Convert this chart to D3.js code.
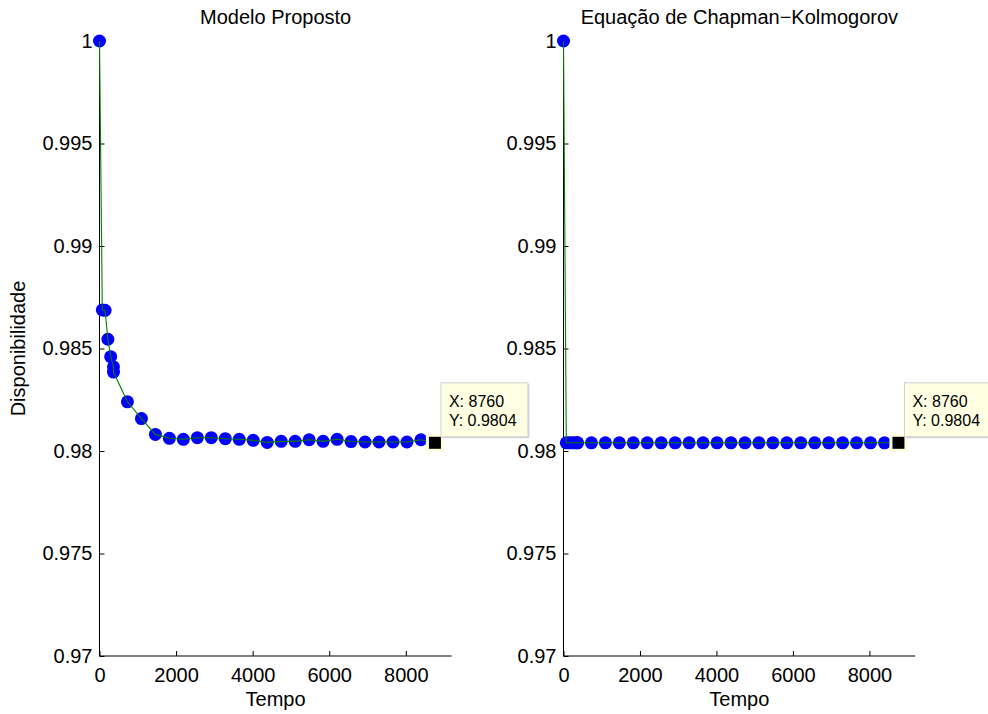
<!DOCTYPE html>
<html>
<head>
<meta charset="utf-8">
<script src="https://cdn.jsdelivr.net/npm/d3@7"></script>
<style>
  html, body { margin: 0; padding: 0; background: #fff; }
  svg { display: block; font-family: "Liberation Sans", Arial, Helvetica, sans-serif; }
</style>
</head>
<body>
<svg id="chart" width="988" height="714"></svg>
<script>
// ---- data ----
const tempo = [0, 73, 146, 219, 292, 365, 365, 730, 1095, 1460, 1825, 2190, 2555, 2920, 3285,
  3650, 4015, 4380, 4745, 5110, 5475, 5840, 6205, 6570, 6935, 7300, 7665, 8030, 8395, 8760];
const dispModelo = [1, 0.98688, 0.98686, 0.98545, 0.98460, 0.98410, 0.98385, 0.98240, 0.98158,
  0.98081, 0.98062, 0.98057, 0.98065, 0.98065, 0.98060, 0.98057, 0.98052, 0.98042, 0.98047,
  0.98047, 0.98055, 0.98047, 0.98057, 0.98046, 0.98044, 0.98044, 0.98044, 0.98044, 0.98055, 0.98040];
const dispChapman = [1, 0.9804, 0.9804, 0.9804, 0.9804, 0.9804, 0.9804, 0.9804, 0.9804, 0.9804,
  0.9804, 0.9804, 0.9804, 0.9804, 0.9804, 0.9804, 0.9804, 0.9804, 0.9804, 0.9804, 0.9804, 0.9804,
  0.9804, 0.9804, 0.9804, 0.9804, 0.9804, 0.9804, 0.9804, 0.9804];
const titles = ["Modelo Proposto", "Equação de Chapman\u2212Kolmogorov"];
const xTicks = [0, 2000, 4000, 6000, 8000];
const yTicks = [0.97, 0.975, 0.98, 0.985, 0.99, 0.995, 1];
const yTickLabels = ["0.97", "0.975", "0.98", "0.985", "0.99", "0.995", "1"];
const xDomain = [0, 9198];
const yDomain = [0.97, 1];
const tipX = 8760, tipY = 0.9804;
const xLabel = "Tempo", yLabel = "Disponibilidade";

// ---- layout ----
const svg = d3.select("#chart");
const panels = [
  { left: 99.5, right: 451.7, values: dispModelo, title: titles[0], ylab: true },
  { left: 563.5, right: 915.2, values: dispChapman, title: titles[1], ylab: false }
];
const plotTop = 41, plotBottom = 656;

panels.forEach(p => {
  const x = d3.scaleLinear().domain(xDomain).range([p.left, p.right]);
  const y = d3.scaleLinear().domain(yDomain).range([plotBottom, plotTop]);
  const g = svg.append("g");

  // axes
  const xAxis = d3.axisBottom(x).tickValues(xTicks).tickSize(-5).tickPadding(12)
    .tickFormat(d3.format("d"));
  const gx = g.append("g").attr("transform", `translate(0,${plotBottom})`).call(xAxis);
  gx.select(".domain").attr("d", `M${p.left},0H${p.right}`);
  const yAxis = d3.axisLeft(y).tickValues(yTicks).tickSize(-5).tickPadding(7)
    .tickFormat((d, i) => yTickLabels[i]);
  const gy = g.append("g").attr("transform", `translate(${p.left},0)`).call(yAxis);
  gy.select(".domain").attr("d", `M0,${plotTop}V${plotBottom}`);
  [gx, gy].forEach(a => {
    a.selectAll("text").attr("font-size", 20).attr("fill", "#000")
      .attr("font-family", '"Liberation Sans", Arial, sans-serif');
    a.selectAll("line").attr("stroke", "#000");
    a.select(".domain").attr("stroke", "#000");
  });
  gx.selectAll("text").attr("dy", "0.71em");

  // markers
  g.append("g").selectAll("circle").data(tempo).join("circle")
    .attr("cx", d => x(d))
    .attr("cy", (d, i) => y(p.values[i]))
    .attr("r", 6.5)
    .attr("fill", "#0000ff");

  // line on top
  const line = d3.line().x(d => x(d[0])).y(d => y(d[1]));
  g.append("path")
    .datum(tempo.map((t, i) => [t, p.values[i]]))
    .attr("d", line)
    .attr("fill", "none")
    .attr("stroke", "#008000")
    .attr("stroke-width", 1.1);

  // title
  g.append("text").attr("x", (p.left + p.right) / 2).attr("y", 24)
    .attr("text-anchor", "middle").attr("font-size", 20).text(p.title);
  // x label
  g.append("text").attr("x", (p.left + p.right) / 2).attr("y", 706)
    .attr("text-anchor", "middle").attr("font-size", 20).text(xLabel);
  if (p.ylab) {
    g.append("text").attr("transform", `translate(25,${(plotTop + plotBottom) / 2}) rotate(-90)`)
      .attr("text-anchor", "middle").attr("font-size", 20).text(yLabel);
  }

  // datatip
  const px = x(tipX), py = y(tipY);
  g.append("rect").attr("x", px - 9).attr("y", py - 9).attr("width", 18).attr("height", 18)
    .attr("fill", "#ffffe0");
  g.append("rect").attr("x", px - 6).attr("y", py - 6).attr("width", 12).attr("height", 12)
    .attr("fill", "#000");
  const bx = px + 6, by = py - 60, bw = 87, bh = 54;
  g.append("rect").attr("x", bx + 1.5).attr("y", by + 1.5).attr("width", bw).attr("height", bh)
    .attr("fill", "#d6d6d6");
  g.append("rect").attr("x", bx).attr("y", by).attr("width", bw).attr("height", bh)
    .attr("fill", "#ffffe3").attr("stroke", "#cfcfcf").attr("stroke-width", 1);
  g.append("text").attr("x", bx + 8).attr("y", by + 24).attr("font-size", 16)
    .text("X: " + tipX);
  g.append("text").attr("x", bx + 8).attr("y", by + 43).attr("font-size", 16)
    .text("Y: " + tipY);
});
</script>
</body>
</html>
